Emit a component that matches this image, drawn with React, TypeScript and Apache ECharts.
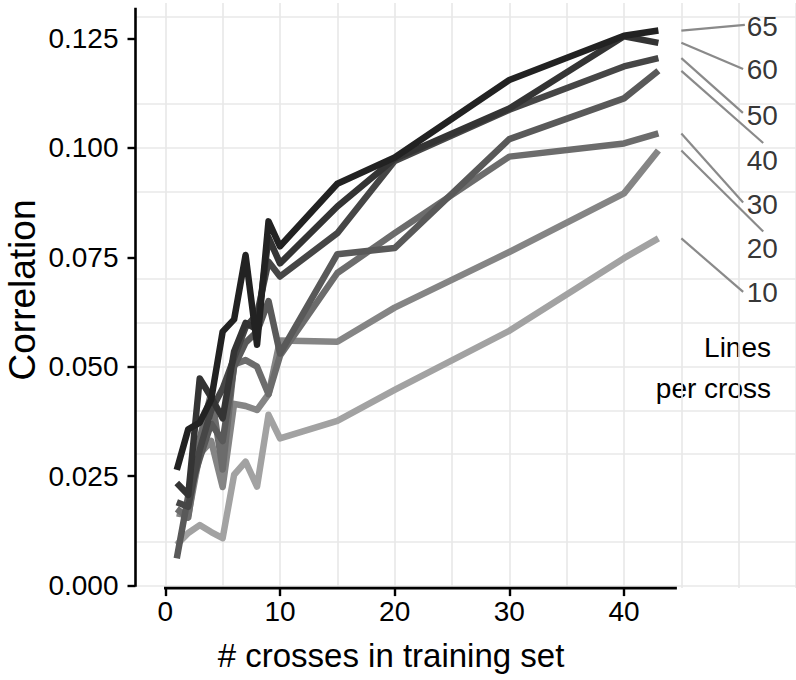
import React, { useEffect, useRef } from 'react';
import * as echarts from 'echarts';

// ---- data ----
const crosses = [1, 2, 3, 4, 5, 6, 7, 8, 9, 10, 15, 20, 30, 40, 43];
const linesPerCross = ['10', '20', '30', '40', '50', '60', '65'];
const corr10 = [0.0093, 0.012, 0.0138, 0.0122, 0.0108, 0.0253, 0.0283, 0.0226, 0.039, 0.0336, 0.0376, 0.0447, 0.0582, 0.0748, 0.0793];
const corr20 = [0.0165, 0.016, 0.03, 0.033, 0.0225, 0.0415, 0.041, 0.0401, 0.0437, 0.056, 0.0557, 0.0635, 0.0762, 0.0896, 0.0994];
const corr30 = [0.0175, 0.0155, 0.0335, 0.044, 0.0265, 0.0505, 0.0515, 0.05, 0.0437, 0.0525, 0.0714, 0.0805, 0.098, 0.101, 0.1033];
const corr40 = [0.0062, 0.0205, 0.029, 0.037, 0.033, 0.05, 0.0555, 0.058, 0.065, 0.053, 0.0757, 0.0771, 0.102, 0.1113, 0.1176];
const corr50 = [0.019, 0.018, 0.031, 0.04, 0.045, 0.052, 0.059, 0.062, 0.074, 0.0706, 0.0805, 0.097, 0.1087, 0.1186, 0.1205];
const corr60 = [0.0234, 0.0207, 0.0473, 0.043, 0.0382, 0.0535, 0.06, 0.0585, 0.0795, 0.0736, 0.0866, 0.0975, 0.109, 0.1255, 0.124];
const corr65 = [0.0264, 0.0357, 0.0372, 0.0425, 0.058, 0.0608, 0.0755, 0.055, 0.0832, 0.0775, 0.0918, 0.0978, 0.1155, 0.1256, 0.1268];
const allCorr = [corr10, corr20, corr30, corr40, corr50, corr60, corr65];

const xTickValues = [0, 10, 20, 30, 40];
const yTickValues = [0, 0.025, 0.05, 0.075, 0.1, 0.125];
const xGridValues = [0, 5, 10, 15, 20, 25, 30, 35, 40, 45, 50, 55];
const yGridValues = [0, 0.0125, 0.025, 0.0375, 0.05, 0.0625, 0.075, 0.0875, 0.1, 0.1125, 0.125];

// ---- layout (label placement, not data) ----
const X_MIN = -2.6;
const X_MAX = 55;
const Y_MIN = -0.0006;
const Y_MAX = 0.1331;
const X_AXIS_END = 44.5;
const Y_AXIS_END = 0.1317;
const SEG_START_X = 45;
const labelX = 50.7;
const labelY = [0.0669, 0.0771, 0.087, 0.0972, 0.1075, 0.1178, 0.1277];
const segEnd = [
  [50.39, 0.0671],
  [52.14, 0.0809],
  [50.39, 0.0875],
  [52.14, 0.1011],
  [50.37, 0.108],
  [50.39, 0.118],
  [50.54, 0.1281],
];
const colors = ['#a2a2a2', '#858585', '#6c6c6c', '#595959', '#464646', '#343434', '#222222'];
const FONT = '"Liberation Sans", Arial, Helvetica, sans-serif';

export default function App() {
  const ref = useRef<HTMLDivElement>(null);
  useEffect(() => {
    document.body.style.margin = '0';
    if (!ref.current) return;
    const chart = echarts.init(ref.current, undefined, { renderer: 'svg' });

    const dataSeries: any[] = linesPerCross.map((name, i) => ({
      name,
      type: 'line',
      data: crosses.map((x, j) => [x, allCorr[i][j]]),
      symbol: 'none',
      z: 3 + i,
      lineStyle: { color: colors[i], width: 6.5, cap: 'butt', join: 'round' },
      ...(i === 0
        ? {
            markLine: {
              silent: true,
              symbol: ['none', 'none'],
              z: 1,
              label: { show: false },
              lineStyle: { color: '#e8e8e8', width: 1.6, type: 'solid' },
              emphasis: { disabled: true },
              data: [
                ...xGridValues.map((v) => ({ xAxis: v })),
                ...yGridValues.map((v) => ({ yAxis: v })),
              ],
            },
          }
        : {}),
    }));

    const option: any = {
      animation: false,
      grid: { left: 135.5, right: 0, top: 3, bottom: 680 - 588.1, containLabel: false },
      xAxis: {
        type: 'value',
        min: X_MIN,
        max: X_MAX,
        axisLine: { show: false, onZero: false },
        splitLine: { show: false },
        axisTick: {
          show: true,
          customValues: xTickValues,
          length: 8,
          lineStyle: { color: '#000', width: 2.4 },
        },
        axisLabel: {
          customValues: xTickValues,
          color: '#000',
          fontSize: 28,
          fontFamily: FONT,
          margin: 9,
        },
      },
      yAxis: {
        type: 'value',
        min: Y_MIN,
        max: Y_MAX,
        axisLine: { show: false, onZero: false },
        splitLine: { show: false },
        axisTick: {
          show: true,
          customValues: yTickValues,
          length: 8,
          lineStyle: { color: '#000', width: 2.4 },
        },
        axisLabel: {
          customValues: yTickValues,
          color: '#000',
          fontSize: 28,
          fontFamily: FONT,
          margin: 17,
          formatter: (v: number) => v.toFixed(3),
        },
      },
      series: [
        ...dataSeries,
        {
          type: 'line',
          data: [
            [0, Y_MIN],
            [X_AXIS_END, Y_MIN],
          ],
          symbol: 'none',
          clip: false,
          z: 20,
          lineStyle: { color: '#000', width: 2.6, cap: 'square' },
        },
        {
          type: 'line',
          data: [
            [X_MIN, 0],
            [X_MIN, Y_AXIS_END],
          ],
          symbol: 'none',
          clip: false,
          z: 20,
          lineStyle: { color: '#000', width: 2.6, cap: 'square' },
        },
        {
          type: 'lines',
          coordinateSystem: 'cartesian2d',
          z: 10,
          silent: true,
          lineStyle: { color: '#8a8a8a', width: 2.2, opacity: 1, curveness: 0 },
          data: linesPerCross.map((name, i) => ({
            coords: [
              [SEG_START_X, allCorr[i][allCorr[i].length - 1]],
              segEnd[i],
            ],
          })),
        },
        {
          type: 'scatter',
          symbolSize: 0,
          z: 11,
          silent: true,
          data: linesPerCross.map((name, i) => ({ name, value: [labelX, labelY[i]] })),
          label: {
            show: true,
            position: 'right',
            distance: 0,
            formatter: '{b}',
            color: '#000',
            fontSize: 28,
            fontFamily: FONT,
          },
        },
      ],
      graphic: [
        {
          type: 'text',
          x: 771,
          y: 347,
          style: {
            text: 'Lines',
            fill: '#000',
            font: `28px ${FONT}`,
            textAlign: 'right',
            textVerticalAlign: 'middle',
          },
        },
        {
          type: 'text',
          x: 771,
          y: 388,
          style: {
            text: 'per cross',
            fill: '#000',
            font: `28px ${FONT}`,
            textAlign: 'right',
            textVerticalAlign: 'middle',
          },
        },
        {
          type: 'text',
          x: 391,
          y: 655,
          style: {
            text: '# crosses in training set',
            fill: '#000',
            font: `33px ${FONT}`,
            textAlign: 'center',
            textVerticalAlign: 'middle',
          },
        },
        {
          type: 'text',
          x: 22,
          y: 290,
          rotation: Math.PI / 2,
          style: {
            text: 'Correlation',
            fill: '#000',
            font: `37px ${FONT}`,
            textAlign: 'center',
            textVerticalAlign: 'middle',
          },
        },
      ],
    };
    chart.setOption(option);
    return () => chart.dispose();
  }, []);
  return <div ref={ref} style={{ width: 796, height: 680 }} />;
}
